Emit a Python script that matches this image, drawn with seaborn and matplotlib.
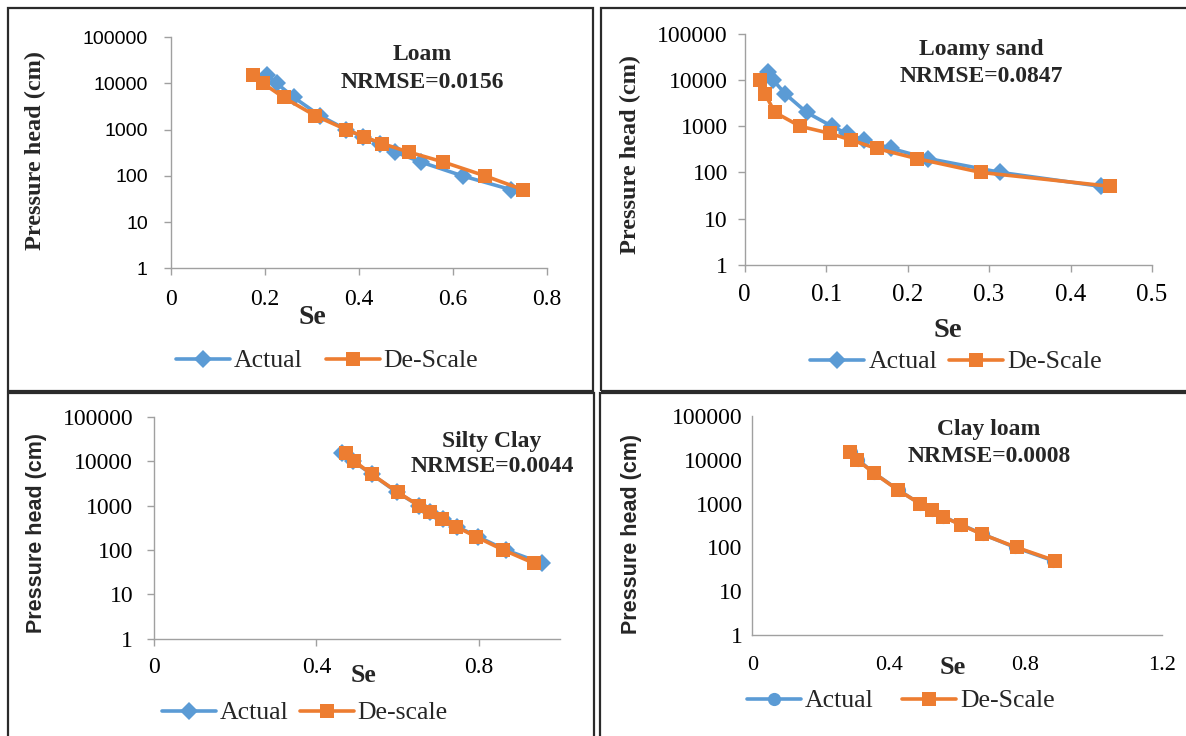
import numpy as np
import pandas as pd
import matplotlib
matplotlib.use("Agg")
import matplotlib.pyplot as plt
import seaborn as sns
from matplotlib.patches import Rectangle

# -----------------------------------
# DATA
# -----------------------------------

heads = [15000, 10000, 5000, 2000, 1000, 700, 500, 330, 200, 100, 50]

loam_actual = [0.204, 0.226, 0.262, 0.318, 0.374, 0.410, 0.445, 0.477, 0.532, 0.621, 0.725]
loam_descale = [0.176, 0.197, 0.240, 0.308, 0.374, 0.412, 0.450, 0.506, 0.580, 0.669, 0.750]

lsand_actual = [0.029, 0.035, 0.050, 0.076, 0.107, 0.125, 0.147, 0.180, 0.225, 0.314, 0.437]
lsand_descale = [0.019, 0.025, 0.037, 0.068, 0.105, 0.131, 0.162, 0.211, 0.290, 0.449]
lsand_descale_heads = heads[1:]

sclay_actual = [0.462, 0.490, 0.537, 0.598, 0.652, 0.681, 0.711, 0.747, 0.797, 0.866, 0.955]
sclay_descale = [0.472, 0.493, 0.537, 0.600, 0.652, 0.681, 0.710, 0.745, 0.792, 0.860, 0.936]

cloam_actual = [0.290, 0.310, 0.356, 0.430, 0.490, 0.525, 0.560, 0.612, 0.675, 0.770, 0.880]
cloam_descale = [0.286, 0.307, 0.356, 0.428, 0.491, 0.525, 0.559, 0.610, 0.673, 0.774, 0.886]

ytick_vals = [1, 10, 100, 1000, 10000, 100000]
ytick_labels = ["1", "10", "100", "1000", "10000", "100000"]

# -----------------------------------
# STYLE
# -----------------------------------

sns.set_style("white")
plt.rcParams["font.family"] = ["Liberation Serif", "DejaVu Serif"]

W, H = 1186, 736
BLUE = "#5B9BD5"
ORANGE = "#ED7D31"
AXCOL = "#A0A0A0"
SERIF = "Liberation Serif"
SANS = "Liberation Sans"

fig = plt.figure(figsize=(W / 100, H / 100), dpi=100)


def fx(x):
    return x / W


def fy(y):
    return 1 - y / H


def box(left, top, right, bottom):
    return [left / W, 1 - bottom / H, (right - left) / W, (bottom - top) / H]


panels = [
    dict(box=(170.7, 37.3, 546.7, 268.3), xlim=0.8, xticks=[0, 0.2, 0.4, 0.6, 0.8],
         xlabels=["0", "0.2", "0.4", "0.6", "0.8"],
         actual=loam_actual, actual_h=heads, descale=loam_descale, descale_h=heads,
         amark="D", title="Loam", nrmse="NRMSE=0.0156", tpos=(422, 55, 82),
         ytick_font=SANS, ytick_size=14, ypad=11.5, xtick_size=17, xpad=10, ticklen=5,
         ylab_font=SERIF, ylab_size=17.5, ylab_pos=(35, 150),
         se_size=20, se_pos=(312, 318),
         leg=("Actual", "De-Scale"), leg_pos=(327, 361), colsp=0.9),
    dict(box=(744.7, 34, 1152, 264.7), xlim=0.5, xticks=[0, 0.1, 0.2, 0.3, 0.4, 0.5],
         xlabels=["0", "0.1", "0.2", "0.3", "0.4", "0.5"],
         actual=lsand_actual, actual_h=heads, descale=lsand_descale, descale_h=lsand_descale_heads,
         amark="D", title="Loamy sand", nrmse="NRMSE=0.0847", tpos=(981, 50, 77),
         ytick_font=SERIF, ytick_size=17, ypad=7, xtick_size=18, xpad=9, ticklen=5,
         ylab_font=SERIF, ylab_size=17.5, ylab_pos=(630, 154),
         se_size=20.5, se_pos=(948, 330),
         leg=("Actual", "De-Scale"), leg_pos=(956, 362), colsp=0.47),
    dict(box=(154, 416.7, 560, 638.7), xlim=1.0, xticks=[0, 0.4, 0.8],
         xlabels=["0", "0.4", "0.8"],
         actual=sclay_actual, actual_h=heads, descale=sclay_descale, descale_h=heads,
         amark="D", title="Silty Clay", nrmse="NRMSE=0.0044", tpos=(492, 442, 467),
         ytick_font=SERIF, ytick_size=17, ypad=10, xtick_size=17, xpad=8, ticklen=5,
         ylab_font=SANS, ylab_size=15.5, ylab_pos=(37, 533),
         se_size=18.5, se_pos=(363, 675),
         leg=("Actual", "De-scale"), leg_pos=(305, 713), colsp=0.43),
    dict(box=(752.3, 416, 1162, 635), xlim=1.2, xticks=[0, 0.4, 0.8, 1.2],
         xlabels=["0", "0.4", "0.8", "1.2"],
         actual=cloam_actual, actual_h=heads, descale=cloam_descale, descale_h=heads,
         amark="o", title="Clay loam", nrmse="NRMSE=0.0008", tpos=(989, 430, 457),
         ytick_font=SERIF, ytick_size=17, ypad=7, xtick_size=16, xpad=15, ticklen=0,
         ylab_font=SANS, ylab_size=15.5, ylab_pos=(632, 534),
         se_size=19, se_pos=(953, 667),
         leg=("Actual", "De-Scale"), leg_pos=(901, 701), colsp=1.1),
]

# -----------------------------------
# DRAW PANELS
# -----------------------------------

for p in panels:
    ax = fig.add_axes(box(*p["box"]))

    sns.lineplot(x=p["actual"], y=p["actual_h"], ax=ax, sort=False, estimator=None,
                 color=BLUE, linewidth=2.6, marker=p["amark"],
                 markersize=9 if p["amark"] == "D" else 9.5,
                 markeredgewidth=0, label=p["leg"][0])
    sns.lineplot(x=p["descale"], y=p["descale_h"], ax=ax, sort=False, estimator=None,
                 color=ORANGE, linewidth=2.6, marker="s", markersize=10,
                 markeredgewidth=0, label=p["leg"][1])

    ax.set_yscale("log")
    ax.set_ylim(1, 100000)
    ax.set_xlim(0, p["xlim"])
    ax.set_yticks(ytick_vals, labels=ytick_labels)
    ax.set_xticks(p["xticks"], labels=p["xlabels"])
    ax.minorticks_off()

    for s in ["top", "right"]:
        ax.spines[s].set_visible(False)
    for s in ["left", "bottom"]:
        ax.spines[s].set_color(AXCOL)
        ax.spines[s].set_linewidth(1)

    ax.tick_params(axis="both", direction="out", color=AXCOL, width=1,
                   length=p["ticklen"], labelcolor="black")
    ax.tick_params(axis="y", pad=p["ypad"], left=True)
    ax.tick_params(axis="x", pad=p["xpad"], bottom=True)
    for t in ax.get_yticklabels():
        t.set_fontfamily(p["ytick_font"])
        t.set_fontsize(p["ytick_size"])
    for t in ax.get_xticklabels():
        t.set_fontfamily(SERIF)
        t.set_fontsize(p["xtick_size"])

    ax.set_ylabel("Pressure head (cm)", fontfamily=p["ylab_font"], fontsize=p["ylab_size"],
                  fontweight="bold", va="center")
    ax.yaxis.set_label_coords(fx(p["ylab_pos"][0]), fy(p["ylab_pos"][1]),
                              transform=fig.transFigure)
    ax.set_xlabel("Se", fontfamily=SERIF, fontsize=p["se_size"], fontweight="bold", va="center")
    ax.xaxis.set_label_coords(fx(p["se_pos"][0]), fy(p["se_pos"][1]),
                              transform=fig.transFigure)

    tx, ty1, ty2 = p["tpos"]
    fig.text(fx(tx), fy(ty1), p["title"], ha="center", va="center",
             fontfamily=SERIF, fontsize=17, fontweight="bold")
    fig.text(fx(tx), fy(ty2), p["nrmse"], ha="center", va="center",
             fontfamily=SERIF, fontsize=17, fontweight="bold")

    ax.legend(loc="center", bbox_to_anchor=(fx(p["leg_pos"][0]), fy(p["leg_pos"][1])),
              bbox_transform=fig.transFigure, ncol=2, frameon=False,
              prop={"family": SERIF, "size": 18.5}, handlelength=2.1,
              handletextpad=0.15, columnspacing=p["colsp"], borderpad=0)

# -----------------------------------
# CELL BORDERS
# -----------------------------------

cells = [(8, 8, 593, 391), (601, 8, 1192, 391), (8, 392.5, 594, 742), (600.5, 393, 1192, 742)]
for x0, y0, x1, y1 in cells:
    fig.patches.append(Rectangle((fx(x0), fy(y1)), (x1 - x0) / W, (y1 - y0) / H,
                                 transform=fig.transFigure, fill=False,
                                 edgecolor="#2b2b2b", linewidth=1.6))

fig.savefig("out.png", dpi=100)
